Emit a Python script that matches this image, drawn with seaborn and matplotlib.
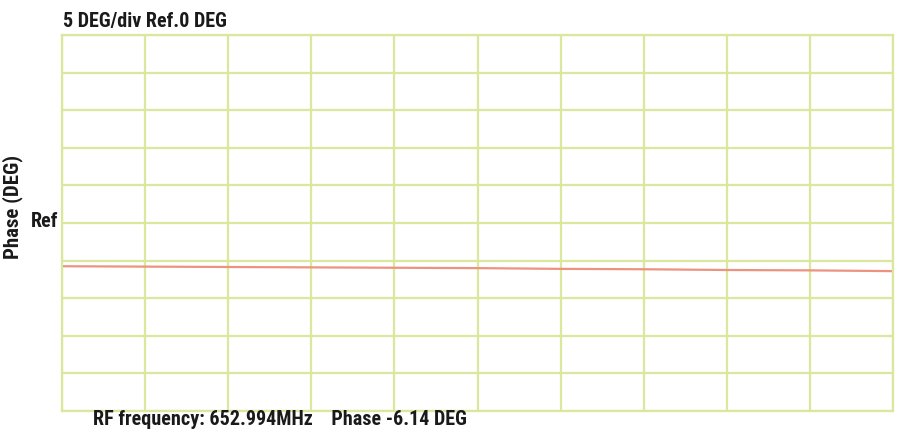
import numpy as np
import pandas as pd
import seaborn as sns
import matplotlib.pyplot as plt

# trace readings across the 10 horizontal divisions
divisions = [0, 1, 2, 3, 4, 5, 6, 7, 8, 9, 10]
phase_deg = [-5.75, -5.8, -5.85, -5.9, -5.95, -6.0, -6.1, -6.15, -6.25, -6.3, -6.4]

deg_per_div = 5
ref_deg = 0
title_text = "5 DEG/div Ref.0 DEG"
footer_text = "RF frequency: 652.994MHz    Phase -6.14 DEG"

grid_color = "#d9e89c"
trace_color = "#ec9380"
text_color = "#1a1a1a"

sns.set_style("white")
plt.rcParams['font.family'] = ['Liberation Sans Narrow', 'Roboto Condensed',
                               'DejaVu Sans Condensed', 'Roboto', 'DejaVu Sans']
plt.rcParams['font.weight'] = 'bold'

fig = plt.figure(figsize=(9.01, 4.33), dpi=100)
ax = fig.add_axes([62 / 901, 22 / 433, (893 - 62) / 901, (411 - 35) / 433])

df = pd.DataFrame({"div": divisions, "phase": phase_deg})
sns.lineplot(data=df, x="div", y="phase", ax=ax, color=trace_color, linewidth=1.6)

ax.set_xlim(0, 10)
ax.set_ylim(ref_deg - 5 * deg_per_div, ref_deg + 5 * deg_per_div)
ax.set_xticks(np.arange(0, 11, 1))
ax.set_yticks(np.arange(-25, 26, deg_per_div))
ax.grid(True, color=grid_color, linewidth=1.6)
ax.set_axisbelow(True)
ax.tick_params(length=0, labelbottom=False, labelleft=False)
for s in ax.spines.values():
    s.set_color(grid_color)
    s.set_linewidth(1.6)

ax.set_xlabel("")
ax.set_ylabel("")
fig.text(13 / 901, 1 - 207 / 433, "Phase (DEG)", rotation=90, ha="center", va="center",
         fontsize=15, color=text_color)
ax.text(-0.004, ref_deg + 0.2, "Ref", transform=ax.get_yaxis_transform(),
        ha="right", va="center", fontsize=14.5, color=text_color)
fig.text(63 / 901, 1 - 27 / 433, title_text, ha="left", va="baseline",
         fontsize=14.5, color=text_color)
fig.text(93 / 901, 1 - 425 / 433, footer_text, ha="left", va="baseline",
         fontsize=14.5, color=text_color)

fig.savefig("out.png", dpi=100)
